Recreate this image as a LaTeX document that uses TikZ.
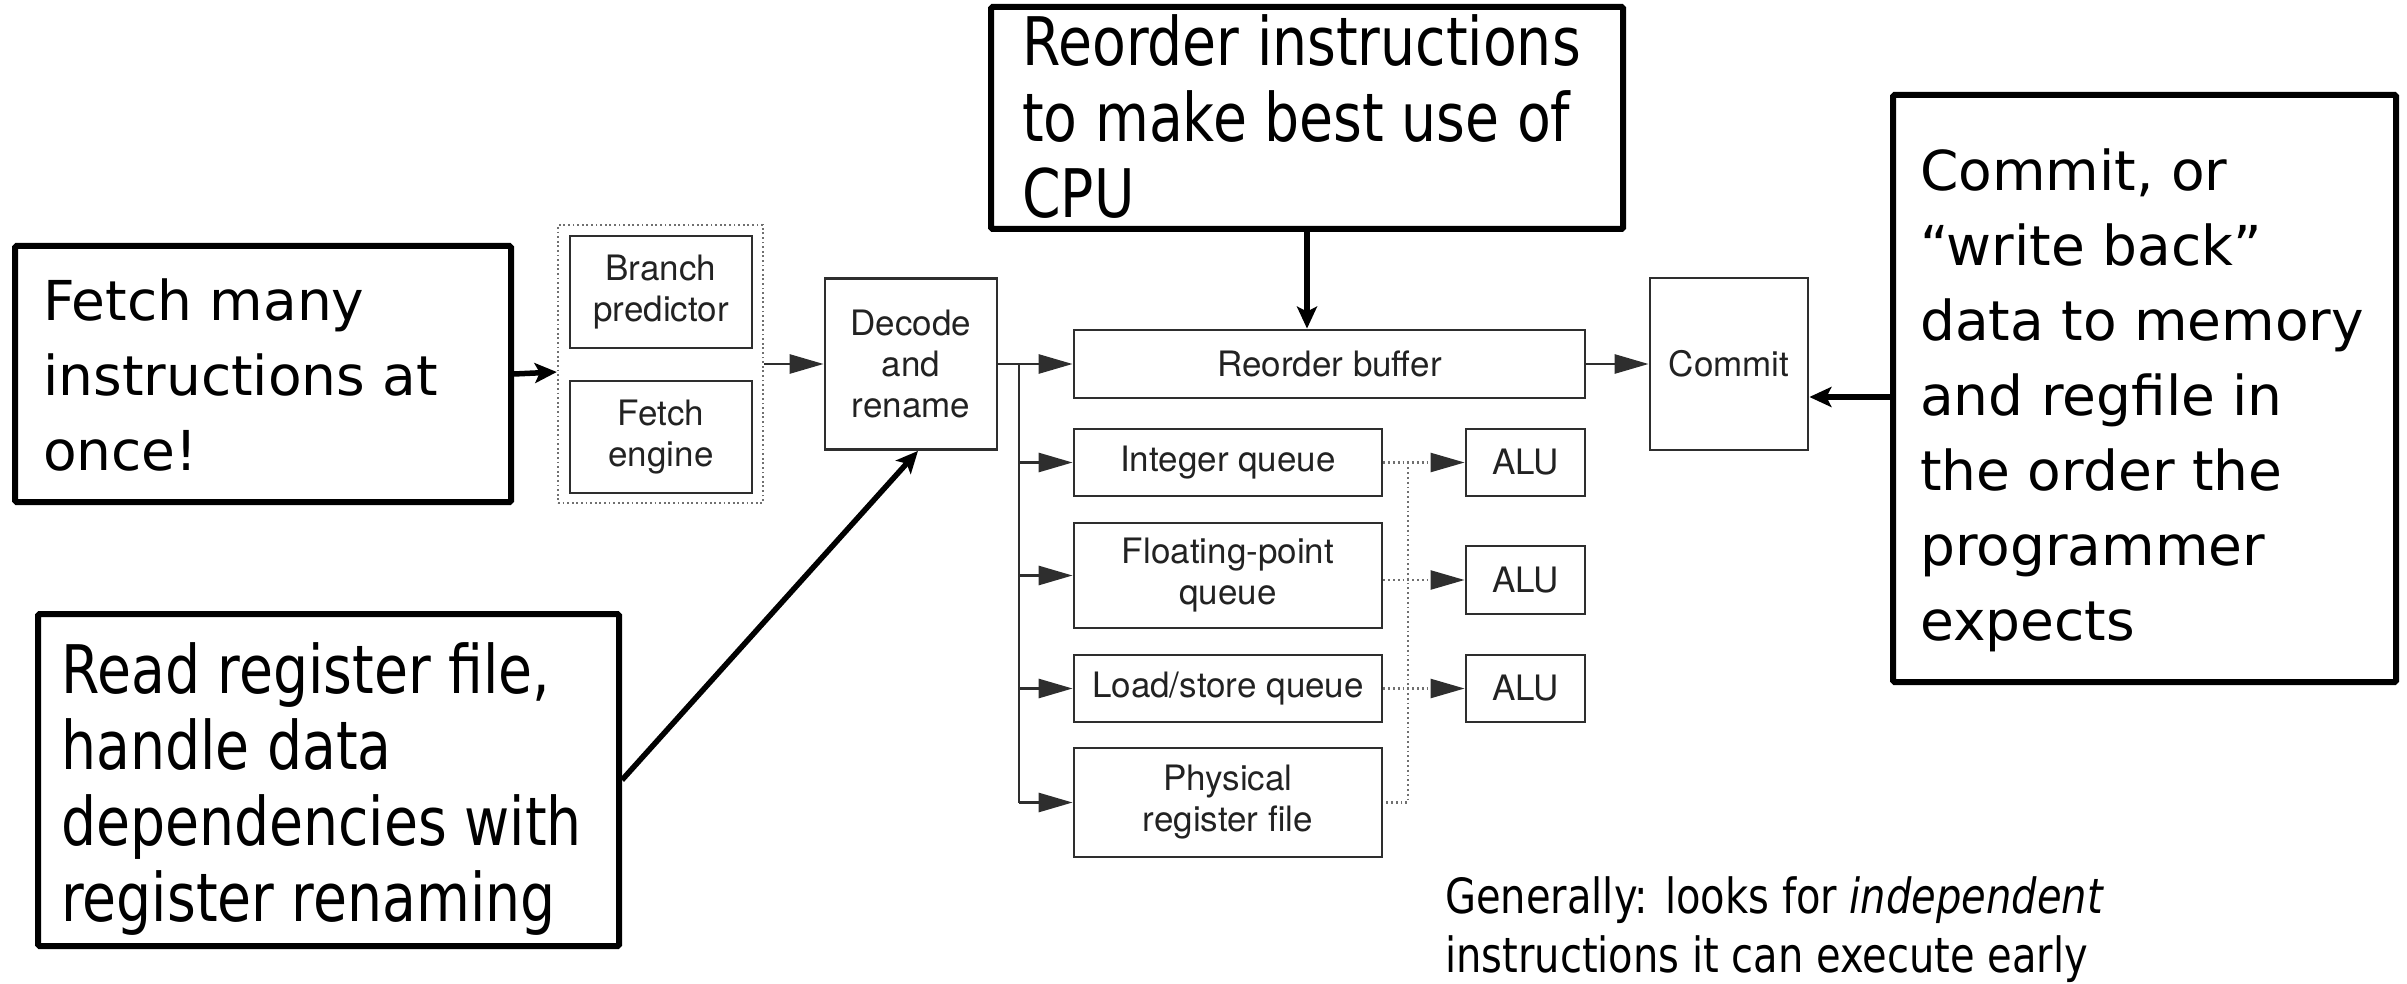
\documentclass[tikz,border=0pt]{standalone}
\usepackage{fontspec}
\usetikzlibrary{arrows.meta,calc}
\newfontfamily\callfont{DejaVu Sans}
\newfontfamily\condfont[FakeStretch=0.825]{DejaVu Sans}
\newfontfamily\diagfont{TeX Gyre Heros}
\definecolor{dline}{HTML}{2E2E2E}
\definecolor{dtext}{HTML}{222222}
\definecolor{dotc}{HTML}{707070}
\newcommand\mylines[1]{\vtop{\halign{##\hfil\cr#1\crcr}}}
\begin{document}
\begin{tikzpicture}[x=1pt,y=-1pt,
  dbox/.style={draw=dline, line width=2.8pt, inner sep=0pt, font=\diagfont\fontsize{35}{41}\selectfont, text=dtext, align=center},
  dtip/.style={-{Triangle[length=34pt,width=19pt,color=dline]}},
  darrow/.style={draw=dline, line width=2.8pt, dtip},
  dline/.style={draw=dline, line width=2.8pt},
  dotline/.style={draw=dotc, line width=2.4pt, dash pattern=on 1.8pt off 3pt},
  callbox/.style={draw=black, line width=6pt, inner sep=0pt, rounded corners=1.5pt},
  calltxt/.style={inner sep=0pt, anchor=base west, font=\callfont\fontsize{55}{75}\selectfont},
  condtxt/.style={inner sep=0pt, anchor=base west, font=\condfont\fontsize{67}{76}\selectfont},
  gentxt/.style={inner sep=0pt, anchor=base west, font=\condfont\fontsize{48.5}{59}\selectfont},
  callarrow/.style={draw=black, line width=5.5pt, -{Stealth[length=22pt,width=20pt,inset=5pt]}}
]
\useasboundingbox (0,0) rectangle (2407,984);

% ---- diagram ----
\node[draw=dotc, line width=2.4pt, dash pattern=on 1.8pt off 2.8pt, minimum width=205pt, minimum height=278pt, inner sep=0pt] (fetchgrp) at (660.5,364) {};
\node[dbox, minimum width=182pt, minimum height=112pt] (branch) at (661,292) {Branch\\predictor};
\node[dbox, minimum width=182pt, minimum height=112pt] (fengine) at (661,437) {Fetch\\engine};
\node[dbox, minimum width=172pt, minimum height=171pt] (decode) at (911,364) {Decode\\and\\rename};
\node[dbox, minimum width=511pt, minimum height=68pt] (rob) at (1329.5,364) {Reorder buffer};
\node[dbox, minimum width=158pt, minimum height=172pt] (commit) at (1729,364) {Commit};
\node[dbox, minimum width=308pt, minimum height=67pt] (intq) at (1228,462.5) {Integer queue};
\node[dbox, minimum width=308pt, minimum height=105pt] (fpq) at (1228,575.5) {Floating-point\\queue};
\node[dbox, minimum width=308pt, minimum height=67pt] (lsq) at (1228,688.5) {Load/store queue};
\node[dbox, minimum width=308pt, minimum height=109pt] (prf) at (1228,802.5) {Physical\\register file};
\node[dbox, minimum width=119pt, minimum height=67pt] (alu1) at (1525.5,462.5) {ALU};
\node[dbox, minimum width=119pt, minimum height=68pt] (alu2) at (1525.5,580) {ALU};
\node[dbox, minimum width=119pt, minimum height=67pt] (alu3) at (1525.5,688.5) {ALU};

\draw[darrow] (fetchgrp.east) -- (decode.west);
\coordinate (trk) at (1019,364);
\draw[dline] (decode.east) -- (trk) -- (trk |- prf.west);
\draw[darrow] (trk) -- (rob.west);
\draw[darrow] (trk |- intq.west) -- (intq.west);
\draw[darrow] (trk |- fpq.west) -- (fpq.west);
\draw[darrow] (trk |- lsq.west) -- (lsq.west);
\draw[darrow] (trk |- prf.west) -- (prf.west);
\draw[darrow] (rob.east) -- (commit.west);

\coordinate (dv) at (1408,462.5);
\draw[dotline] (dv) -- (dv |- prf.east) -- (prf.east);
\draw[dotline, dtip] (intq.east) -- (alu1.west);
\draw[dotline, dtip] (fpq.east |- alu2.west) -- (alu2.west);
\draw[dotline, dtip] (lsq.east) -- (alu3.west);

% ---- callouts ----
\node[callbox, minimum width=496pt, minimum height=256pt] (fetchcall) at (263,374) {};
\node[calltxt] (fetchtxt) at (43,320) {\mylines{Fetch many\cr instructions at\cr once!}};
\draw[callarrow] (fetchcall.east) -- ([yshift=-8pt]fetchgrp.west);

\node[callbox, minimum width=632pt, minimum height=222pt] (rocall) at (1307,118) {};
\node[condtxt] (rotxt) at (1022,66) {\mylines{Reorder instructions\cr to make best use of\cr CPU}};
\draw[callarrow] (rocall.south) -- (rocall.south |- rob.north);

\node[callbox, minimum width=503pt, minimum height=587pt] (cmcall) at (2144.5,388.5) {};
\node[calltxt] (cmtxt) at (1920,191) {\mylines{Commit, or\cr “write back”\cr data to memory\cr and regfile in\cr the order the\cr programmer\cr expects}};
\coordinate (cmarr) at (1893,397);
\draw[callarrow] (cmarr) -- (cmarr -| commit.east);

\node[callbox, minimum width=581pt, minimum height=332pt] (rdcall) at (328.5,780) {};
\node[condtxt] (rdtxt) at (61,693) {\mylines{Read register file,\cr handle data\cr dependencies with\cr register renaming}};
\draw[callarrow] (rdcall.east) -- ([xshift=7pt]decode.south);

\node[gentxt] (gen) at (1445,913) {\mylines{Generally: looks for \textit{independent}\cr instructions it can execute early}};
\end{tikzpicture}
\end{document}
